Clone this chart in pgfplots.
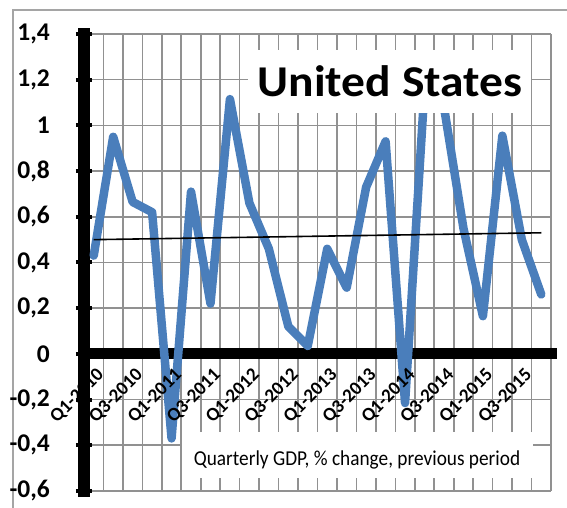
\documentclass[border=0pt]{standalone}
\usepackage{fontspec}
\setmainfont{Carlito}
\usepackage{graphicx}
\usepackage{pgfplots}
\pgfplotsset{compat=1.18}
\definecolor{usblue}{RGB}{74,126,187}
\definecolor{gridgray}{RGB}{145,145,145}
\definecolor{framegray}{RGB}{165,165,165}

\pgfplotstableread{
idx gdp
0 0.43
1 0.95
2 0.665
3 0.62
4 -0.37
5 0.71
6 0.22
7 1.115
8 0.66
9 0.46
10 0.12
11 0.035
12 0.46
13 0.29
14 0.73
15 0.93
16 -0.215
17 1.16
18 1.08
19 0.55
20 0.165
21 0.955
22 0.50
23 0.26
}\gdpdata

\pgfplotsset{
  commongeom/.style={
    at={(84pt,17pt)}, anchor=south west,
    scale only axis, width=467pt, height=457pt,
    xmin=-0.5, xmax=23.5, ymin=-0.6, ymax=1.4,
    axis x line*=middle, axis y line*=left,
    clip=false,
  },
}

\begin{document}
\begin{tikzpicture}
\useasboundingbox (0pt,0pt) rectangle (567pt,508pt);
\draw[framegray, line width=1.5pt] (13pt,-5pt) -- (13pt,498pt) -- (580pt,498pt);
\begin{axis}[
  commongeom,
  x axis line style={line width=11pt, black, shorten >=-6pt},
  y axis line style={line width=12pt, black, shorten >=-6pt, shorten <=-6pt},
  xtick={0,2,...,22},
  xticklabels={},
  minor xtick={0.5,1.5,...,23.5},
  xminorgrids=true, xmajorgrids=false,
  ytick={-0.6,-0.4,-0.2,0,0.2,0.4,0.6,0.8,1,1.2,1.4},
  yticklabels={{-0,6},{-0,4},{-0,2},0,{0,2},{0,4},{0,6},{0,8},1,{1,2},{1,4}},
  ymajorgrids=true,
  grid style={gridgray, line width=1.6pt},
  minor grid style={gridgray, line width=1.6pt},
  tick align=center,
  major tick length=16pt, minor tick length=0pt,
  xtick style={draw=none},
  ytick style={line width=4pt, black},
  yticklabel style={font=\bfseries\fontsize{25.5}{25.5}\selectfont, inner sep=0pt, xshift=-26pt},
]
\addplot[usblue, line width=8.5pt, line join=round, line cap=round] table[x=idx, y=gdp] {\gdpdata};
\addplot[black, line width=1.6pt] coordinates {(0,0.50) (23,0.53)};
\end{axis}
\begin{axis}[
  commongeom,
  axis line style={draw=none},
  xtick={0,2,...,22},
  xticklabels={Q1-2010,Q3-2010,Q1-2011,Q3-2011,Q1-2012,Q3-2012,Q1-2013,Q3-2013,Q1-2014,Q3-2014,Q1-2015,Q3-2015},
  ytick=\empty,
  tick style={draw=none},
  xticklabel style={xshift=2pt, yshift=-13pt, rotate=45, anchor=north east, inner sep=0pt, font=\bfseries\fontsize{19}{19}\selectfont},
]
\end{axis}
\fill[white] (248pt,395pt) rectangle (531pt,458pt);
\node[anchor=base, inner sep=0pt] at (390pt,411pt) {\scalebox{1.08}[1]{\bfseries\fontsize{44}{44}\selectfont United States}};
\fill[white] (182pt,30pt) rectangle (533pt,76pt);
\node[anchor=base, inner sep=0pt] at (357pt,42pt) {\scalebox{1}[1.1]{\fontsize{19.3}{19.3}\selectfont Quarterly GDP, \% change, previous period}};
\end{tikzpicture}
\end{document}
